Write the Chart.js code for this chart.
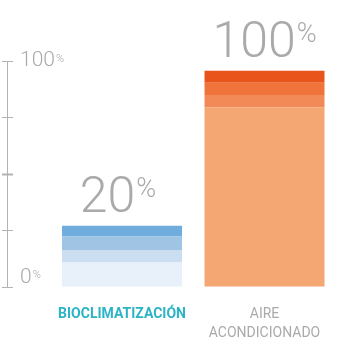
<!DOCTYPE html>
<html>
<head>
<meta charset="utf-8">
<script src="https://cdn.jsdelivr.net/npm/chart.js@4.4.1/dist/chart.umd.min.js"></script>
<style>
  html, body { margin: 0; padding: 0; background: #ffffff; }
  #wrap { position: relative; width: 354px; height: 346px; }
</style>
</head>
<body>
<div id="wrap"><canvas id="chart"></canvas></div>
<script>
const categories = ["BIOCLIMATIZACIÓN", ["AIRE", "ACONDICIONADO"]];
const valueLabels = ["20", "100"];
// stacked layers, bottom to top, as drawn (axis units 0-100)
const layer1 = [10.8, 79.5];
const layer2 = [5.6, 5.5];
const layer3 = [5.9, 5.4];
const layer4 = [4.8, 5.3];
const axisTicks = [0, 25, 50, 75, 100];

const blues = ["#e8f0f9", "#cbddf0", "#a0c4e4", "#6fadde"];
const oranges = ["#f4a673", "#f28a58", "#ef733a", "#e8541a"];
const grey = "#aaaaaa";
const axisGrey = "#b3b3b3";
const fontFamily = "Roboto, 'Open Sans', sans-serif";

const layers = [layer1, layer2, layer3, layer4];
const datasets = layers.map((layer, i) => ({
  data: layer.map((v, j) => ({ x: j + 1, y: v })),
  backgroundColor: [blues[i], oranges[i]],
  borderWidth: 0,
  barPercentage: 1,
  categoryPercentage: 0.842,
  yAxisID: "y",
}));

// superscript "%" signs and value labels above the bars
const percentPlugin = {
  id: "percentLabels",
  afterDraw(chart) {
    const ctx = chart.ctx;
    const x = chart.scales.x;
    const y = chart.scales.y;
    ctx.save();
    ctx.fillStyle = grey;
    ctx.textBaseline = "alphabetic";
    ctx.textAlign = "left";

    const tops = layer1.map((v, i) => v + layer2[i] + layer3[i] + layer4[i]);
    valueLabels.forEach((label, i) => {
      ctx.font = "300 50px " + fontFamily;
      const w = ctx.measureText(label).width;
      ctx.font = "300 27px " + fontFamily;
      const pw = ctx.measureText("%").width;
      const left = x.getPixelForValue(i + 1) - (w + pw + 1) / 2 - (i === 0 ? 4 : 0);
      const base = y.getPixelForValue(tops[i]) - 14;
      ctx.font = "300 50px " + fontFamily;
      ctx.fillText(label, left, base);
      ctx.font = "300 27px " + fontFamily;
      ctx.fillText("%", left + w + 1, base - 15);
    });

    ctx.font = "300 21px " + fontFamily;
    const w100 = ctx.measureText("100").width;
    const w0 = ctx.measureText("0").width;
    ctx.font = "300 11px " + fontFamily;
    ctx.fillText("%", 20 + w100 + 1, y.getPixelForValue(100) + 1);
    ctx.fillText("%", 20 + w0 + 1, y.getPixelForValue(0) - 9);
    ctx.restore();
  },
};

new Chart(document.getElementById("chart"), {
  type: "bar",
  data: { datasets },
  plugins: [percentPlugin],
  options: {
    responsive: true,
    maintainAspectRatio: false,
    animation: false,
    layout: { padding: { left: 2, top: 61, right: 0, bottom: 0 } },
    plugins: { legend: { display: false }, tooltip: { enabled: false } },
    scales: {
      x: {
        type: "linear",
        stacked: true,
        offset: false,
        bounds: "ticks",
        min: 0.235,
        max: 2.628,
        afterBuildTicks: (scale) => {
          scale.ticks = [{ value: 1 }, { value: 2 }];
        },
        afterFit: (scale) => {
          scale.height = 59;
        },
        grid: { display: false, offset: false },
        border: { display: false },
        ticks: {
          autoSkip: false,
          maxRotation: 0,
          padding: 10,
          callback: (value) => categories[value - 1],
          color: (c) => (c.index === 0 ? "#2bb3c6" : grey),
          font: (c) => ({
            family: fontFamily,
            size: 14,
            weight: c.index === 0 ? "bold" : "normal",
            lineHeight: 1.35,
          }),
        },
      },
      y: {
        stacked: true,
        min: 0,
        max: 100,
        weight: 0,
        afterBuildTicks: (scale) => {
          scale.ticks = axisTicks.map((v) => ({ value: v }));
        },
        afterFit: (scale) => {
          scale.width = 6;
        },
        border: { display: false },
        grid: {
          drawOnChartArea: false,
          drawTicks: true,
          tickLength: 6,
          tickColor: axisGrey,
          tickWidth: (c) => (c.tick && c.tick.value === 50 ? 2 : 1),
        },
        ticks: {
          mirror: true,
          padding: 7,
          labelOffset: -9,
          color: grey,
          font: { family: fontFamily, size: 21, weight: "300" },
          callback: (value) => (value === 0 ? "0" : ""),
        },
      },
      yOuter: {
        position: "left",
        min: 0,
        max: 100,
        weight: 1,
        afterBuildTicks: (scale) => {
          scale.ticks = axisTicks.map((v) => ({ value: v }));
        },
        afterFit: (scale) => {
          scale.width = 5;
        },
        border: { display: true, color: axisGrey, width: 1 },
        grid: {
          drawOnChartArea: false,
          drawTicks: true,
          tickLength: 5,
          tickColor: axisGrey,
          tickWidth: (c) => (c.tick && c.tick.value === 50 ? 2 : 1),
        },
        ticks: {
          mirror: true,
          padding: 13,
          color: grey,
          font: { family: fontFamily, size: 21, weight: "300" },
          callback: (value) => (value === 100 ? "100" : ""),
        },
      },
    },
  },
});
</script>
</body>
</html>
